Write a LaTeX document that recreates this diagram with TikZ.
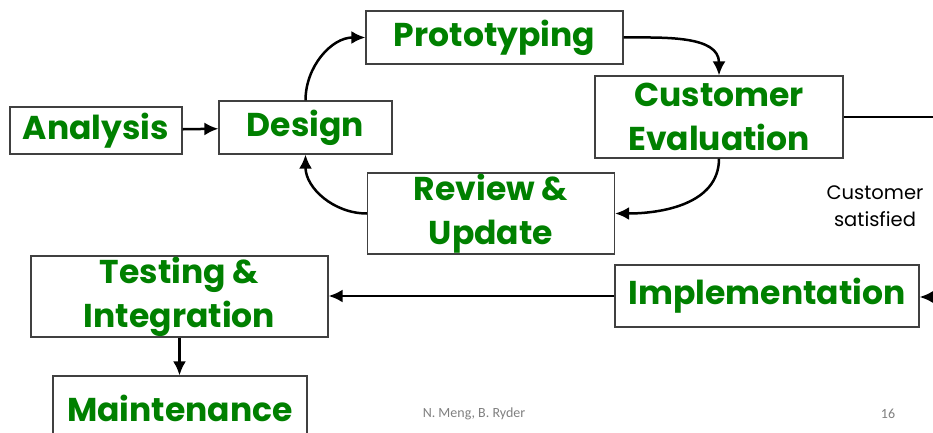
\documentclass[tikz,border=0pt]{standalone}
\usepackage{fontspec}
\setmainfont{Poppins}
\newfontfamily\footfont{Carlito}
\usetikzlibrary{arrows.meta}
\definecolor{stagegreen}{RGB}{0,128,0}
\definecolor{footgray}{RGB}{128,128,128}

\begin{document}
\begin{tikzpicture}[x = 1pt, y = -1pt]
	\tikzstyle{stageStyle}=[shape = rectangle, draw = black!75, line width = 1.2pt, inner sep = 0pt, align = center, text = stagegreen, font = \fontsize{33}{44}\selectfont\bfseries]
	\tikzstyle{flowStyle}=[-{Latex[length = 14pt, width = 13pt]}, line width = 2.5pt]
	\tikzstyle{noteStyle}=[align = center, font = \fontsize{19.5}{27}\selectfont]
	\tikzstyle{footStyle}=[text = footgray, font = \footfont\fontsize{14}{16}\selectfont]
	\clip (0, 0) rectangle (933, 433);
	\node[stageStyle, minimum width = 172, minimum height = 47] (analysis) at (96, 130.5) {Analysis};
	\node[stageStyle, minimum width = 173, minimum height = 53] (design) at (305.5, 127.5) {Design};
	\node[stageStyle, minimum width = 257, minimum height = 53] (proto) at (494.5, 37.5) {Prototyping};
	\node[stageStyle, minimum width = 248, minimum height = 82] (evaluation) at (719, 117) {Customer\\Evaluation};
	\node[stageStyle, minimum width = 247, minimum height = 81] (review) at (491, 213.5) {Review \&\\Update};
	\node[stageStyle, minimum width = 297, minimum height = 81] (testing) at (179.5, 296.5) {Testing \&\\Integration};
	\node[stageStyle, minimum width = 304, minimum height = 62] (implement) at (767, 296) {Implementation};
	\node[stageStyle, minimum width = 254, minimum height = 64] (maintain) at (180, 408) {Maintenance};
	\node[noteStyle] (satisfied) at (875, 206) {Customer\\satisfied};
	\node[footStyle] (authors) at (474, 414) {N. Meng, B. Ryder};
	\node[footStyle] (page) at (888, 414) {16};
	\coordinate (evalout) at (940, 117);
	\coordinate (implin) at (940, 297);
	\draw[flowStyle] (analysis) -- (design);
	\draw[flowStyle] (design.north) to[out = 90, in = 180] (proto.west);
	\draw[flowStyle] (proto.east) to[out = 0, in = 90] (evaluation.north);
	\draw[flowStyle] (evaluation.south) to[out = -90, in = 0] (review.east);
	\draw[flowStyle] (review.west) to[out = 180, in = -90] (design.south);
	\draw[line width = 2.5pt] (evaluation.east |- evalout) -- (evalout);
	\draw[flowStyle] (implin) -- (implement.east |- implin);
	\draw[flowStyle] (implement.west) -- (testing.east |- implement.west);
	\draw[flowStyle] (testing.south) -- (maintain.north -| testing.south);
\end{tikzpicture}
\end{document}
